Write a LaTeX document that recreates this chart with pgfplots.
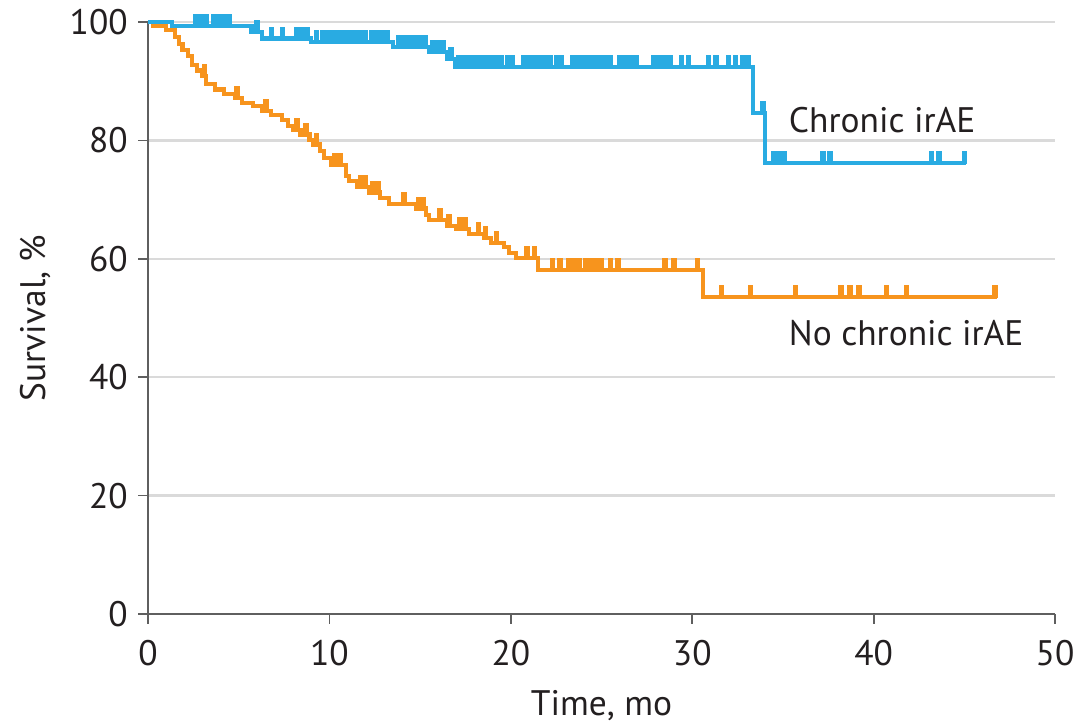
\documentclass[border=0pt]{standalone}
\usepackage{fontspec}
\setmainfont{PT Sans}
\usepackage{pgfplots}
\pgfplotsset{compat=1.18}

\definecolor{cblue}{RGB}{41,171,226}
\definecolor{corange}{RGB}{247,148,29}
\definecolor{gridgray}{RGB}{218,218,218}
\definecolor{axgray}{RGB}{95,95,95}
\definecolor{txt}{RGB}{35,31,32}

% censor tick: short vertical stroke rising from the curve
\pgfdeclareplotmark{cens}{%
  \pgfpathmoveto{\pgfqpoint{0pt}{-0.4pt}}%
  \pgfpathlineto{\pgfqpoint{0pt}{4.2pt}}%
  \pgfusepathqstroke}

\begin{document}
\begin{tikzpicture}
\begin{axis}[
  scale only axis,
  width=319.7pt, height=208.7pt,
  xmin=0, xmax=50, ymin=0, ymax=100,
  xtick={0,10,...,50}, ytick={0,20,...,100},
  axis x line*=bottom, axis y line*=left,
  axis line style={axgray, line width=0.6pt},
  tick align=outside,
  major tick length=3.5pt,
  tick style={axgray, line width=0.6pt},
  ymajorgrids,
  grid style={gridgray, line width=0.8pt},
  ticklabel style={font=\fontsize{12.5}{15}\selectfont, text=txt},
  /pgf/number format/assume math mode=true,
  xticklabel style={anchor=north, inner sep=0pt, yshift=-5.5pt},
  yticklabel style={anchor=east, inner sep=0pt, xshift=-3.5pt},
  xlabel={Time, mo}, ylabel={Survival, \%},
  every axis x label/.style={at={(axis description cs:0.5,-0.171)}, anchor=base,
    font=\fontsize{12.5}{15}\selectfont, text=txt},
  every axis y label/.style={at={(axis description cs:-0.1245,0.5)}, rotate=90,
    anchor=center, font=\fontsize{12.5}{15}\selectfont, text=txt},
  clip=false,
]
% ---- No chronic irAE
\addplot[const plot, corange, line width=1.45pt] coordinates {
  (0,100) (0.3,99.4) (1.0,98.7) (1.5,97.5) (1.7,96.3) (1.9,95.2) (2.2,94.3)
  (2.4,92.8) (2.7,91.8) (3.0,90.9) (3.2,89.5) (3.7,88.6) (4.2,87.8) (4.8,87.2)
  (5.2,86.3) (5.8,85.8) (6.3,85.0) (6.8,84.3) (7.4,83.4) (7.7,82.5) (8.0,81.8)
  (8.4,81.0) (8.9,80.0) (9.1,79.3) (9.5,78.2) (9.7,77.0) (10.1,75.9) (10.9,74.0)
  (11.1,73.2) (11.5,72.2) (12.2,71.2) (12.8,70.2) (13.3,69.3) (14.8,68.5)
  (15.3,67.4) (15.5,66.6) (16.5,65.6) (17.0,65.0) (17.7,64.2) (18.5,63.5)
  (18.9,62.6) (19.6,62.0) (19.9,61.0) (20.3,60.2) (21.5,58.1) (30.6,53.5)
  (46.8,53.5)
};
\addplot[only marks, mark=cens, corange, line width=1.9pt] coordinates {
  (3.1,90.9) (4.9,87.2) (6.5,85.0) (8.2,81.8) (8.7,81.0) (9.3,79.3)
  (10.3,75.9) (10.6,75.9) (11.7,72.2) (12.0,72.2) (12.4,71.2) (12.7,71.2)
  (14.1,69.3) (14.9,68.5) (15.2,68.5) (16.1,66.6) (16.6,65.6) (17.2,65.0)
  (17.5,65.0) (18.2,64.2) (18.6,63.5) (19.2,62.6) (20.9,60.2) (21.3,60.2)
  (22.3,58.1) (22.7,58.1) (23.2,58.1) (23.5,58.1) (23.8,58.1) (24.1,58.1)
  (24.4,58.1) (24.7,58.1) (25.0,58.1) (25.5,58.1) (25.9,58.1) (28.5,58.1)
  (29.0,58.1) (30.3,58.1)
  (31.6,53.5) (33.2,53.5) (35.7,53.5) (38.2,53.5) (38.7,53.5) (39.2,53.5)
  (40.7,53.5) (41.8,53.5) (46.7,53.5)
};
% ---- Chronic irAE
\addplot[const plot, cblue, line width=1.45pt] coordinates {
  (0,100) (1.3,99.3) (5.7,98.3) (6.3,97.2) (9.0,96.6) (13.5,95.8) (15.5,95.0)
  (16.5,93.8) (16.9,92.4) (33.35,84.6) (34.0,76.2) (45.1,76.2)
};
\addplot[only marks, mark=cens, cblue, line width=1.9pt] coordinates {
  (2.6,99.3) (2.9,99.3) (3.2,99.3) (3.6,99.3) (3.9,99.3) (4.2,99.3) (4.5,99.3)
  (6.0,98.3) (6.8,97.2) (7.4,97.2) (8.2,97.2) (8.5,97.2) (8.8,97.2)
  (9.3,96.6) (9.6,96.6) (9.9,96.6) (10.2,96.6) (10.5,96.6) (10.8,96.6)
  (11.1,96.6) (11.4,96.6) (11.7,96.6) (12.0,96.6) (12.3,96.6) (12.6,96.6)
  (12.9,96.6) (13.2,96.6)
  (13.8,95.8) (14.1,95.8) (14.4,95.8) (14.7,95.8) (15.0,95.8) (15.3,95.8)
  (15.7,95.0) (16.0,95.0) (16.3,95.0) (16.7,93.8)
  (17.1,92.4) (17.4,92.4) (17.7,92.4) (18.0,92.4) (18.3,92.4) (18.6,92.4)
  (18.9,92.4) (19.2,92.4) (19.5,92.4) (19.8,92.4) (20.1,92.4)
  (20.7,92.4) (21.0,92.4) (21.3,92.4) (21.6,92.4) (21.9,92.4) (22.2,92.4)
  (22.5,92.4) (22.8,92.4)
  (23.4,92.4) (23.7,92.4) (24.0,92.4) (24.3,92.4) (24.6,92.4) (24.9,92.4)
  (25.2,92.4) (25.5,92.4)
  (26.0,92.4) (26.3,92.4) (26.6,92.4) (26.9,92.4)
  (27.9,92.4) (28.2,92.4) (28.5,92.4) (28.8,92.4)
  (29.4,92.4) (29.8,92.4) (30.9,92.4) (31.3,92.4) (32.0,92.4) (32.4,92.4)
  (32.8,92.4) (33.1,92.4)
  (33.9,84.6)
  (34.5,76.2) (34.8,76.2) (35.1,76.2) (37.2,76.2) (37.6,76.2)
  (43.2,76.2) (43.6,76.2) (45.0,76.2)
};
\node[anchor=west, inner sep=0pt, text=txt, font=\fontsize{12.5}{15}\selectfont]
  at (axis cs:35.3,83.4) {Chronic irAE};
\node[anchor=west, inner sep=0pt, text=txt, font=\fontsize{12.5}{15}\selectfont]
  at (axis cs:35.3,47.5) {No chronic irAE};
\end{axis}
\pgfresetboundingbox
\path[use as bounding box] ([shift={(-52.2pt,-39.5pt)}]current axis.south west)
  rectangle ([shift={(8.1pt,7.75pt)}]current axis.north east);
\end{tikzpicture}
\end{document}
